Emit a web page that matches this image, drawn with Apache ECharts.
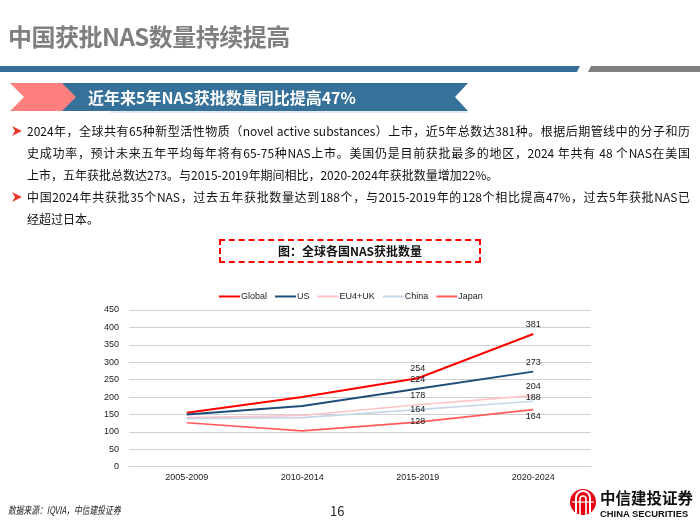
<!DOCTYPE html>
<html><head><meta charset="utf-8">
<script src="https://cdn.jsdelivr.net/npm/echarts@6/dist/echarts.min.js"></script>
<style>
html,body{margin:0;padding:0;background:#fff;}
#page{position:relative;width:700px;height:525px;overflow:hidden;font-family:"Noto Sans CJK SC","Noto Sans",sans-serif;}
#chart{position:absolute;left:0;top:0;width:700px;height:525px;}
.abs{position:absolute;}
.title{left:8px;top:18px;font-size:24px;font-weight:bold;color:#7f7f7f;letter-spacing:-0.5px;white-space:nowrap;}
.banner-text{left:88px;top:85px;font-size:16px;font-weight:bold;color:#fff;white-space:nowrap;line-height:24px;}
.line{position:absolute;left:27px;width:663px;font-size:12px;color:#111;line-height:16px;white-space:nowrap;text-align:justify;text-align-last:justify;}
.line.last{text-align-last:left;}
.bul{position:absolute;left:11px;}
.ctitle{left:219px;top:239px;width:258px;height:20px;border:2px dashed #ff0000;text-align:center;font-size:12px;font-weight:bold;line-height:20px;color:#111;}
.foot{left:8px;top:502px;font-size:10.5px;font-style:italic;color:#222;white-space:nowrap;transform:scaleX(0.74);transform-origin:left center;}
.pnum{left:330px;top:501px;font-size:13px;color:#222;}
</style></head>
<body><div id="page">
<div id="chart"></div>
<div class="abs title">中国获批NAS数量持续提高</div>
<svg class="abs" style="left:0;top:0" width="700" height="120">
  <polygon points="0,66 580,66 577,72 0,72" fill="#35709a"/>
  <polygon points="591,66 700,66 700,72 588,72" fill="#808080"/>
  <polygon points="48,83 468,83 455,97 468,111 48,111 62,97" fill="#36719a"/>
  <polygon points="10,83 62,83 76,97 62,111 10,111 24,97" fill="#ff7f7f"/>
  <line x1="110" y1="112" x2="468" y2="112" stroke="#bdd7ee" stroke-width="1"/>
</svg>
<div class="abs banner-text">近年来5年NAS获批数量同比提高47%</div>
<svg class="bul" style="top:125px" width="12" height="12"><polygon points="1,1 11,6 1,11 4,6" fill="#e8392a"/></svg>
<div class="line" style="top:123px">2024年，全球共有65种新型活性物质（novel active substances）上市，近5年总数达381种。根据后期管线中的分子和历</div>
<div class="line" style="top:145px">史成功率，预计未来五年平均每年将有65-75种NAS上市。美国仍是目前获批最多的地区，2024 年共有 48 个NAS在美国</div>
<div class="line last" style="top:167px">上市，五年获批总数达273。与2015-2019年期间相比，2020-2024年获批数量增加22%。</div>
<svg class="bul" style="top:191px" width="12" height="12"><polygon points="1,1 11,6 1,11 4,6" fill="#e8392a"/></svg>
<div class="line" style="top:189px">中国2024年共获批35个NAS，过去五年获批数量达到188个，与2015-2019年的128个相比提高47%，过去5年获批NAS已</div>
<div class="line last" style="top:211px">经超过日本。</div>
<div class="abs ctitle">图：全球各国NAS获批数量</div>
<div class="abs foot">数据来源：IQVIA，中信建投证券</div>
<div class="abs pnum">16</div>
<svg class="abs" style="left:568px;top:486px" width="130" height="36">
  <circle cx="15" cy="16" r="13" fill="#e60012"/>
  <path d="M8,27 V12 a7,7 0 0 1 14,0 V27" fill="none" stroke="#fff" stroke-width="2"/>
  <path d="M12,29 V13 a3,3 0 0 1 6,0 V29" fill="none" stroke="#fff" stroke-width="1.6"/>
  <line x1="4" y1="16" x2="26" y2="16" stroke="#fff" stroke-width="1.2"/>
  <text x="32" y="18" font-family="Noto Sans CJK SC" font-weight="bold" font-size="15.5" fill="#111">中信建投证券</text>
  <text x="32" y="31" font-family="Liberation Sans, Arial" font-weight="bold" font-size="9.4" fill="#111">CHINA SECURITIES</text>
</svg>
</div>
<script>
const categories = ['2005-2009', '2010-2014', '2015-2019', '2020-2024'];
const yTicks = [0, 50, 100, 150, 200, 250, 300, 350, 400, 450];
const globalVals = [155, 200, 254, 381];
const usVals = [150, 174, 224, 273];
const euVals = [141, 147, 178, 204];
const chinaVals = [138, 141, 164, 188];
const japanVals = [126, 103, 128, 164];
const seriesNames = ['Global', 'US', 'EU4+UK', 'China', 'Japan'];

// label vertical offsets for the labelled points (2015-2019, 2020-2024)
const labelShift = {
  'Global': [null, null, 0, 0],
  'US': [null, null, 0, 0],
  'EU4+UK': [null, null, 0, 0],
  'China': [null, null, 9, 6],
  'Japan': [null, null, 9, 16]
};
const colors = {'Global':'#ff0000','US':'#1f4e79','EU4+UK':'#ffc3c8','China':'#c6d7e7','Japan':'#ff5b5b'};
const widths = {'Global':2,'US':2,'EU4+UK':1.6,'China':1.6,'Japan':1.6};
const valsByName = {'Global':globalVals,'US':usVals,'EU4+UK':euVals,'China':chinaVals,'Japan':japanVals};
const FONT = 'Liberation Sans, Arial, sans-serif';

const series = seriesNames.map(name => ({
  name: name,
  type: 'line',
  symbol: 'circle',
  symbolSize: 0.01,
  showSymbol: true,
  color: colors[name],
  lineStyle: {width: widths[name], color: colors[name]},
  itemStyle: {color: colors[name]},
  emphasis: {disabled: true},
  data: valsByName[name].map((v, i) => {
    const s = labelShift[name][i];
    if (s === null) return v;
    return {value: v, label: {show: true, position: 'top', distance: 5, offset: [0, s],
      color: '#1a1a1a', fontSize: 9, fontFamily: FONT}};
  })
}));

const chart = echarts.init(document.getElementById('chart'), null, {renderer: 'canvas'});
chart.setOption({
  animation: false,
  backgroundColor: 'transparent',
  legend: {
    data: seriesNames,
    top: 287,
    left: 214,
    icon: 'rect',
    itemWidth: 21,
    itemHeight: 2,
    itemGap: 8,
    textStyle: {color: '#222', fontSize: 9, fontFamily: FONT, padding: [0, 0, 0, -4]}
  },
  grid: {left: 129, right: 109, top: 310, bottom: 58.3, containLabel: false},
  xAxis: {
    type: 'category',
    data: categories,
    boundaryGap: true,
    axisLine: {show: true, lineStyle: {color: '#d0d0d0', width: 1}},
    axisTick: {show: false},
    axisLabel: {color: '#222', fontSize: 9, margin: 6, fontFamily: FONT}
  },
  yAxis: {
    type: 'value',
    min: yTicks[0],
    max: yTicks[yTicks.length - 1],
    interval: 50,
    axisLine: {show: false},
    axisTick: {show: false},
    splitLine: {lineStyle: {color: '#d0d0d0', width: 1}},
    axisLabel: {color: '#222', fontSize: 9, margin: 10, fontFamily: FONT}
  },
  series: series
});
</script>
</body></html>
